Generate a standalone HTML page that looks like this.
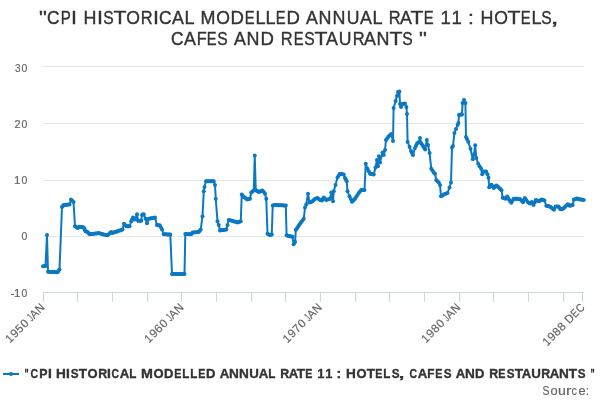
<!DOCTYPE html>
<html><head><meta charset="utf-8"><title>CPI HISTORICAL MODELLED ANNUAL RATE 11 : HOTELS, CAFES AND RESTAURANTS</title>
<style>
html,body{margin:0;padding:0;background:#fff;}
body{width:600px;height:400px;overflow:hidden;}
svg{display:block;will-change:transform;}
text{font-family:"Liberation Sans",sans-serif;white-space:pre;font-kerning:none;}
.ttl{font-size:19.07px;fill:#333;stroke:#333;stroke-width:0.4px;}
.ax{font-size:11.66px;fill:#666;stroke:#666;stroke-width:0.2px;}
.lg{font-size:12.72px;font-weight:bold;fill:#333;stroke:#333;stroke-width:0.35px;}
.src{font-size:12.72px;fill:#666;stroke:#666;stroke-width:0.2px;}
</style></head><body>
<svg width="600" height="400" viewBox="0 0 600 400">
<rect width="600" height="400" fill="#fff"/>
<g stroke="#e6e6e6" stroke-width="1" fill="none"><path d="M43 66.5 H584"/><path d="M43 123.5 H584"/><path d="M43 180.5 H584"/><path d="M43 236.5 H584"/></g>
<g stroke="#ccd6eb" stroke-width="1" fill="none"><path d="M43 292.5 H584"/><path d="M43.5 292 V302"/><path d="M77.5 292 V302"/><path d="M112.5 292 V302"/><path d="M147.5 292 V302"/><path d="M181.5 292 V302"/><path d="M216.5 292 V302"/><path d="M251.5 292 V302"/><path d="M285.5 292 V302"/><path d="M320.5 292 V302"/><path d="M355.5 292 V302"/><path d="M389.5 292 V302"/><path d="M424.5 292 V302"/><path d="M459.5 292 V302"/><path d="M493.5 292 V302"/><path d="M528.5 292 V302"/><path d="M563.5 292 V302"/><path d="M582.5 292 V302"/></g>
<g fill="none" stroke="#0b78c2" stroke-width="2" stroke-linejoin="round" stroke-linecap="round"><path d="M43.00 266.25 L45.50 266.00 L47.00 235.00 L48.00 271.80 L57.50 272.20 L59.50 269.50 L62.00 207.00 L63.75 205.00 L69.50 204.50 L71.00 199.50 L73.50 202.00 L75.00 226.25 L77.50 228.00 L79.50 226.75 L83.75 227.50 L85.50 231.25 L87.50 232.00 L89.50 234.25 L93.75 233.75 L98.75 233.00 L102.50 234.25 L107.50 235.25 L111.25 232.00 L112.50 233.00 L117.50 231.25 L122.50 229.50 L124.00 223.75 L126.25 226.25 L129.50 226.25 L131.25 221.25 L133.00 217.50 L135.00 219.50 L137.00 214.25 L138.00 220.75 L141.25 220.75 L142.00 215.00 L143.75 214.25 L145.50 218.75 L147.00 223.25 L148.75 218.75 L155.00 217.50 L157.00 225.00 L160.00 225.50 L162.00 229.50 L163.75 234.25 L170.30 234.50 L172.00 274.00 L184.50 274.00 L185.30 234.00 L191.25 234.25 L192.50 232.50 L198.75 232.00 L200.75 229.50 L202.50 216.25 L203.75 191.25 L204.50 187.00 L206.00 181.25 L213.75 181.25 L215.00 185.00 L215.75 198.75 L217.50 221.25 L218.75 225.00 L220.00 230.50 L226.25 229.50 L227.50 225.00 L228.75 220.00 L233.75 221.25 L237.50 222.50 L240.75 221.25 L241.75 194.50 L243.75 197.00 L247.50 199.50 L250.00 198.75 L251.25 192.50 L253.75 190.50 L254.75 155.50 L255.75 190.00 L258.75 192.00 L262.50 190.50 L265.00 193.75 L266.25 198.75 L267.50 233.75 L270.00 235.00 L271.75 234.50 L272.75 205.50 L275.00 205.00 L285.80 205.50 L286.60 235.30 L290.00 236.30 L292.50 236.80 L293.60 244.20 L295.10 242.00 L295.80 230.00 L300.00 223.75 L303.75 218.75 L305.00 207.50 L306.25 204.50 L308.00 193.75 L309.50 202.50 L312.50 201.25 L315.00 198.75 L317.50 198.00 L320.00 200.00 L322.00 200.50 L323.75 197.50 L326.25 200.00 L330.00 198.75 L331.25 192.50 L333.00 201.25 L333.75 191.25 L335.50 185.00 L337.50 177.50 L340.00 173.75 L343.75 174.50 L345.00 178.00 L346.75 181.25 L347.50 191.25 L349.50 196.25 L352.00 201.75 L355.00 198.75 L358.75 193.00 L361.25 190.00 L364.50 190.00 L365.75 163.75 L367.50 168.75 L370.00 173.75 L373.75 174.50 L375.50 167.50 L377.00 160.00 L378.00 166.25 L379.00 156.25 L380.00 162.50 L382.50 152.50 L383.75 155.00 L385.00 150.00 L386.00 140.00 L388.50 136.40 L391.20 134.00 L393.00 141.00 L393.60 108.00 L395.60 101.00 L397.00 96.00 L398.00 92.00 L399.40 91.60 L400.00 104.00 L401.00 107.00 L402.40 104.00 L405.00 103.60 L406.40 107.00 L407.00 114.00 L407.60 142.00 L409.60 147.00 L411.00 151.00 L413.00 155.00 L415.00 148.00 L417.00 143.60 L419.00 142.00 L420.00 138.00 L421.00 143.00 L423.00 146.00 L425.20 149.60 L426.80 140.00 L428.00 145.00 L429.60 153.00 L431.25 168.75 L433.75 172.50 L435.00 173.75 L436.25 180.00 L438.75 182.50 L440.00 185.00 L441.00 196.25 L443.75 194.50 L447.50 193.00 L449.50 187.50 L451.00 182.50 L452.00 147.50 L453.00 146.00 L454.40 133.00 L456.00 129.00 L457.60 125.00 L458.40 123.00 L459.00 115.00 L462.00 114.40 L462.60 103.00 L464.00 100.00 L465.40 103.00 L466.00 137.00 L468.20 141.70 L470.50 148.70 L472.80 159.20 L474.00 154.50 L475.20 145.20 L476.30 158.00 L478.20 163.80 L481.00 168.50 L482.20 174.30 L483.80 171.50 L486.10 171.50 L487.50 174.30 L488.50 177.80 L489.20 187.20 L491.50 184.80 L493.80 187.90 L496.20 185.50 L498.50 187.20 L501.50 190.20 L502.70 197.70 L505.50 198.80 L507.10 196.50 L509.00 199.50 L511.30 202.80 L513.70 198.80 L517.20 198.80 L520.70 199.50 L523.00 202.30 L524.90 198.10 L527.70 201.90 L530.00 203.50 L531.90 201.90 L533.50 205.10 L535.80 200.00 L539.30 201.20 L541.70 199.50 L544.50 200.50 L546.30 205.80 L549.80 206.50 L552.20 208.20 L554.00 209.80 L555.70 206.50 L558.50 206.50 L560.30 208.90 L562.20 209.30 L565.00 207.00 L567.80 204.20 L569.70 205.80 L572.70 205.10 L573.90 199.50 L576.70 198.40 L579.00 199.30 L581.30 199.50 L583.70 200.00"/></g>
<g fill="#0b78c2"><circle cx="43.00" cy="266.25" r="2"/><circle cx="44.25" cy="266.12" r="2"/><circle cx="45.50" cy="266.00" r="2"/><circle cx="47.00" cy="235.00" r="2"/><circle cx="48.00" cy="271.80" r="2"/><circle cx="49.19" cy="271.85" r="2"/><circle cx="50.38" cy="271.90" r="2"/><circle cx="51.56" cy="271.95" r="2"/><circle cx="52.75" cy="272.00" r="2"/><circle cx="53.94" cy="272.05" r="2"/><circle cx="55.12" cy="272.10" r="2"/><circle cx="56.31" cy="272.15" r="2"/><circle cx="57.50" cy="272.20" r="2"/><circle cx="58.50" cy="270.85" r="2"/><circle cx="59.50" cy="269.50" r="2"/><circle cx="62.00" cy="207.00" r="2"/><circle cx="62.88" cy="206.00" r="2"/><circle cx="63.75" cy="205.00" r="2"/><circle cx="64.90" cy="204.90" r="2"/><circle cx="66.05" cy="204.80" r="2"/><circle cx="67.20" cy="204.70" r="2"/><circle cx="68.35" cy="204.60" r="2"/><circle cx="69.50" cy="204.50" r="2"/><circle cx="71.00" cy="199.50" r="2"/><circle cx="72.25" cy="200.75" r="2"/><circle cx="73.50" cy="202.00" r="2"/><circle cx="75.00" cy="226.25" r="2"/><circle cx="76.25" cy="227.12" r="2"/><circle cx="77.50" cy="228.00" r="2"/><circle cx="78.50" cy="227.38" r="2"/><circle cx="79.50" cy="226.75" r="2"/><circle cx="80.56" cy="226.94" r="2"/><circle cx="81.62" cy="227.12" r="2"/><circle cx="82.69" cy="227.31" r="2"/><circle cx="83.75" cy="227.50" r="2"/><circle cx="84.62" cy="229.38" r="2"/><circle cx="85.50" cy="231.25" r="2"/><circle cx="86.50" cy="231.62" r="2"/><circle cx="87.50" cy="232.00" r="2"/><circle cx="88.50" cy="233.12" r="2"/><circle cx="89.50" cy="234.25" r="2"/><circle cx="90.56" cy="234.12" r="2"/><circle cx="91.62" cy="234.00" r="2"/><circle cx="92.69" cy="233.88" r="2"/><circle cx="93.75" cy="233.75" r="2"/><circle cx="95.00" cy="233.56" r="2"/><circle cx="96.25" cy="233.38" r="2"/><circle cx="97.50" cy="233.19" r="2"/><circle cx="98.75" cy="233.00" r="2"/><circle cx="100.00" cy="233.42" r="2"/><circle cx="101.25" cy="233.83" r="2"/><circle cx="102.50" cy="234.25" r="2"/><circle cx="103.75" cy="234.50" r="2"/><circle cx="105.00" cy="234.75" r="2"/><circle cx="106.25" cy="235.00" r="2"/><circle cx="107.50" cy="235.25" r="2"/><circle cx="108.75" cy="234.17" r="2"/><circle cx="110.00" cy="233.08" r="2"/><circle cx="111.25" cy="232.00" r="2"/><circle cx="112.50" cy="233.00" r="2"/><circle cx="113.75" cy="232.56" r="2"/><circle cx="115.00" cy="232.12" r="2"/><circle cx="116.25" cy="231.69" r="2"/><circle cx="117.50" cy="231.25" r="2"/><circle cx="118.75" cy="230.81" r="2"/><circle cx="120.00" cy="230.38" r="2"/><circle cx="121.25" cy="229.94" r="2"/><circle cx="122.50" cy="229.50" r="2"/><circle cx="124.00" cy="223.75" r="2"/><circle cx="125.12" cy="225.00" r="2"/><circle cx="126.25" cy="226.25" r="2"/><circle cx="127.33" cy="226.25" r="2"/><circle cx="128.42" cy="226.25" r="2"/><circle cx="129.50" cy="226.25" r="2"/><circle cx="131.25" cy="221.25" r="2"/><circle cx="132.12" cy="219.38" r="2"/><circle cx="133.00" cy="217.50" r="2"/><circle cx="134.00" cy="218.50" r="2"/><circle cx="135.00" cy="219.50" r="2"/><circle cx="137.00" cy="214.25" r="2"/><circle cx="138.00" cy="220.75" r="2"/><circle cx="139.08" cy="220.75" r="2"/><circle cx="140.17" cy="220.75" r="2"/><circle cx="141.25" cy="220.75" r="2"/><circle cx="142.00" cy="215.00" r="2"/><circle cx="142.88" cy="214.62" r="2"/><circle cx="143.75" cy="214.25" r="2"/><circle cx="145.50" cy="218.75" r="2"/><circle cx="147.00" cy="223.25" r="2"/><circle cx="148.75" cy="218.75" r="2"/><circle cx="150.00" cy="218.50" r="2"/><circle cx="151.25" cy="218.25" r="2"/><circle cx="152.50" cy="218.00" r="2"/><circle cx="153.75" cy="217.75" r="2"/><circle cx="155.00" cy="217.50" r="2"/><circle cx="157.00" cy="225.00" r="2"/><circle cx="158.00" cy="225.17" r="2"/><circle cx="159.00" cy="225.33" r="2"/><circle cx="160.00" cy="225.50" r="2"/><circle cx="161.00" cy="227.50" r="2"/><circle cx="162.00" cy="229.50" r="2"/><circle cx="163.75" cy="234.25" r="2"/><circle cx="164.84" cy="234.29" r="2"/><circle cx="165.93" cy="234.33" r="2"/><circle cx="167.03" cy="234.38" r="2"/><circle cx="168.12" cy="234.42" r="2"/><circle cx="169.21" cy="234.46" r="2"/><circle cx="170.30" cy="234.50" r="2"/><circle cx="172.00" cy="274.00" r="2"/><circle cx="173.14" cy="274.00" r="2"/><circle cx="174.27" cy="274.00" r="2"/><circle cx="175.41" cy="274.00" r="2"/><circle cx="176.55" cy="274.00" r="2"/><circle cx="177.68" cy="274.00" r="2"/><circle cx="178.82" cy="274.00" r="2"/><circle cx="179.95" cy="274.00" r="2"/><circle cx="181.09" cy="274.00" r="2"/><circle cx="182.23" cy="274.00" r="2"/><circle cx="183.36" cy="274.00" r="2"/><circle cx="184.50" cy="274.00" r="2"/><circle cx="185.30" cy="234.00" r="2"/><circle cx="186.49" cy="234.05" r="2"/><circle cx="187.68" cy="234.10" r="2"/><circle cx="188.87" cy="234.15" r="2"/><circle cx="190.06" cy="234.20" r="2"/><circle cx="191.25" cy="234.25" r="2"/><circle cx="192.50" cy="232.50" r="2"/><circle cx="193.75" cy="232.40" r="2"/><circle cx="195.00" cy="232.30" r="2"/><circle cx="196.25" cy="232.20" r="2"/><circle cx="197.50" cy="232.10" r="2"/><circle cx="198.75" cy="232.00" r="2"/><circle cx="199.75" cy="230.75" r="2"/><circle cx="200.75" cy="229.50" r="2"/><circle cx="202.50" cy="216.25" r="2"/><circle cx="203.75" cy="191.25" r="2"/><circle cx="204.50" cy="187.00" r="2"/><circle cx="206.00" cy="181.25" r="2"/><circle cx="207.11" cy="181.25" r="2"/><circle cx="208.21" cy="181.25" r="2"/><circle cx="209.32" cy="181.25" r="2"/><circle cx="210.43" cy="181.25" r="2"/><circle cx="211.54" cy="181.25" r="2"/><circle cx="212.64" cy="181.25" r="2"/><circle cx="213.75" cy="181.25" r="2"/><circle cx="215.00" cy="185.00" r="2"/><circle cx="215.75" cy="198.75" r="2"/><circle cx="217.50" cy="221.25" r="2"/><circle cx="218.75" cy="225.00" r="2"/><circle cx="220.00" cy="230.50" r="2"/><circle cx="221.25" cy="230.30" r="2"/><circle cx="222.50" cy="230.10" r="2"/><circle cx="223.75" cy="229.90" r="2"/><circle cx="225.00" cy="229.70" r="2"/><circle cx="226.25" cy="229.50" r="2"/><circle cx="227.50" cy="225.00" r="2"/><circle cx="228.75" cy="220.00" r="2"/><circle cx="230.00" cy="220.31" r="2"/><circle cx="231.25" cy="220.62" r="2"/><circle cx="232.50" cy="220.94" r="2"/><circle cx="233.75" cy="221.25" r="2"/><circle cx="235.00" cy="221.67" r="2"/><circle cx="236.25" cy="222.08" r="2"/><circle cx="237.50" cy="222.50" r="2"/><circle cx="238.58" cy="222.08" r="2"/><circle cx="239.67" cy="221.67" r="2"/><circle cx="240.75" cy="221.25" r="2"/><circle cx="241.75" cy="194.50" r="2"/><circle cx="242.75" cy="195.75" r="2"/><circle cx="243.75" cy="197.00" r="2"/><circle cx="245.00" cy="197.83" r="2"/><circle cx="246.25" cy="198.67" r="2"/><circle cx="247.50" cy="199.50" r="2"/><circle cx="248.75" cy="199.12" r="2"/><circle cx="250.00" cy="198.75" r="2"/><circle cx="251.25" cy="192.50" r="2"/><circle cx="252.50" cy="191.50" r="2"/><circle cx="253.75" cy="190.50" r="2"/><circle cx="254.75" cy="155.50" r="2"/><circle cx="255.75" cy="190.00" r="2"/><circle cx="256.75" cy="190.67" r="2"/><circle cx="257.75" cy="191.33" r="2"/><circle cx="258.75" cy="192.00" r="2"/><circle cx="260.00" cy="191.50" r="2"/><circle cx="261.25" cy="191.00" r="2"/><circle cx="262.50" cy="190.50" r="2"/><circle cx="263.75" cy="192.12" r="2"/><circle cx="265.00" cy="193.75" r="2"/><circle cx="266.25" cy="198.75" r="2"/><circle cx="267.50" cy="233.75" r="2"/><circle cx="268.75" cy="234.38" r="2"/><circle cx="270.00" cy="235.00" r="2"/><circle cx="270.88" cy="234.75" r="2"/><circle cx="271.75" cy="234.50" r="2"/><circle cx="272.75" cy="205.50" r="2"/><circle cx="273.88" cy="205.25" r="2"/><circle cx="275.00" cy="205.00" r="2"/><circle cx="276.20" cy="205.06" r="2"/><circle cx="277.40" cy="205.11" r="2"/><circle cx="278.60" cy="205.17" r="2"/><circle cx="279.80" cy="205.22" r="2"/><circle cx="281.00" cy="205.28" r="2"/><circle cx="282.20" cy="205.33" r="2"/><circle cx="283.40" cy="205.39" r="2"/><circle cx="284.60" cy="205.44" r="2"/><circle cx="285.80" cy="205.50" r="2"/><circle cx="286.60" cy="235.30" r="2"/><circle cx="287.73" cy="235.63" r="2"/><circle cx="288.87" cy="235.97" r="2"/><circle cx="290.00" cy="236.30" r="2"/><circle cx="291.25" cy="236.55" r="2"/><circle cx="292.50" cy="236.80" r="2"/><circle cx="293.60" cy="244.20" r="2"/><circle cx="295.10" cy="242.00" r="2"/><circle cx="295.80" cy="230.00" r="2"/><circle cx="296.85" cy="228.44" r="2"/><circle cx="297.90" cy="226.88" r="2"/><circle cx="298.95" cy="225.31" r="2"/><circle cx="300.00" cy="223.75" r="2"/><circle cx="301.25" cy="222.08" r="2"/><circle cx="302.50" cy="220.42" r="2"/><circle cx="303.75" cy="218.75" r="2"/><circle cx="305.00" cy="207.50" r="2"/><circle cx="306.25" cy="204.50" r="2"/><circle cx="308.00" cy="193.75" r="2"/><circle cx="309.50" cy="202.50" r="2"/><circle cx="310.50" cy="202.08" r="2"/><circle cx="311.50" cy="201.67" r="2"/><circle cx="312.50" cy="201.25" r="2"/><circle cx="313.75" cy="200.00" r="2"/><circle cx="315.00" cy="198.75" r="2"/><circle cx="316.25" cy="198.38" r="2"/><circle cx="317.50" cy="198.00" r="2"/><circle cx="318.75" cy="199.00" r="2"/><circle cx="320.00" cy="200.00" r="2"/><circle cx="321.00" cy="200.25" r="2"/><circle cx="322.00" cy="200.50" r="2"/><circle cx="322.88" cy="199.00" r="2"/><circle cx="323.75" cy="197.50" r="2"/><circle cx="325.00" cy="198.75" r="2"/><circle cx="326.25" cy="200.00" r="2"/><circle cx="327.50" cy="199.58" r="2"/><circle cx="328.75" cy="199.17" r="2"/><circle cx="330.00" cy="198.75" r="2"/><circle cx="331.25" cy="192.50" r="2"/><circle cx="333.00" cy="201.25" r="2"/><circle cx="333.75" cy="191.25" r="2"/><circle cx="335.50" cy="185.00" r="2"/><circle cx="337.50" cy="177.50" r="2"/><circle cx="338.75" cy="175.62" r="2"/><circle cx="340.00" cy="173.75" r="2"/><circle cx="341.25" cy="174.00" r="2"/><circle cx="342.50" cy="174.25" r="2"/><circle cx="343.75" cy="174.50" r="2"/><circle cx="345.00" cy="178.00" r="2"/><circle cx="345.88" cy="179.62" r="2"/><circle cx="346.75" cy="181.25" r="2"/><circle cx="347.50" cy="191.25" r="2"/><circle cx="349.50" cy="196.25" r="2"/><circle cx="350.75" cy="199.00" r="2"/><circle cx="352.00" cy="201.75" r="2"/><circle cx="353.00" cy="200.75" r="2"/><circle cx="354.00" cy="199.75" r="2"/><circle cx="355.00" cy="198.75" r="2"/><circle cx="356.25" cy="196.83" r="2"/><circle cx="357.50" cy="194.92" r="2"/><circle cx="358.75" cy="193.00" r="2"/><circle cx="360.00" cy="191.50" r="2"/><circle cx="361.25" cy="190.00" r="2"/><circle cx="362.33" cy="190.00" r="2"/><circle cx="363.42" cy="190.00" r="2"/><circle cx="364.50" cy="190.00" r="2"/><circle cx="365.75" cy="163.75" r="2"/><circle cx="367.50" cy="168.75" r="2"/><circle cx="368.75" cy="171.25" r="2"/><circle cx="370.00" cy="173.75" r="2"/><circle cx="371.25" cy="174.00" r="2"/><circle cx="372.50" cy="174.25" r="2"/><circle cx="373.75" cy="174.50" r="2"/><circle cx="375.50" cy="167.50" r="2"/><circle cx="377.00" cy="160.00" r="2"/><circle cx="378.00" cy="166.25" r="2"/><circle cx="379.00" cy="156.25" r="2"/><circle cx="380.00" cy="162.50" r="2"/><circle cx="382.50" cy="152.50" r="2"/><circle cx="383.75" cy="155.00" r="2"/><circle cx="385.00" cy="150.00" r="2"/><circle cx="386.00" cy="140.00" r="2"/><circle cx="387.25" cy="138.20" r="2"/><circle cx="388.50" cy="136.40" r="2"/><circle cx="389.85" cy="135.20" r="2"/><circle cx="391.20" cy="134.00" r="2"/><circle cx="393.00" cy="141.00" r="2"/><circle cx="393.60" cy="108.00" r="2"/><circle cx="395.60" cy="101.00" r="2"/><circle cx="397.00" cy="96.00" r="2"/><circle cx="398.00" cy="92.00" r="2"/><circle cx="399.40" cy="91.60" r="2"/><circle cx="400.00" cy="104.00" r="2"/><circle cx="401.00" cy="107.00" r="2"/><circle cx="402.40" cy="104.00" r="2"/><circle cx="403.70" cy="103.80" r="2"/><circle cx="405.00" cy="103.60" r="2"/><circle cx="406.40" cy="107.00" r="2"/><circle cx="407.00" cy="114.00" r="2"/><circle cx="407.60" cy="142.00" r="2"/><circle cx="409.60" cy="147.00" r="2"/><circle cx="411.00" cy="151.00" r="2"/><circle cx="412.00" cy="153.00" r="2"/><circle cx="413.00" cy="155.00" r="2"/><circle cx="415.00" cy="148.00" r="2"/><circle cx="416.00" cy="145.80" r="2"/><circle cx="417.00" cy="143.60" r="2"/><circle cx="418.00" cy="142.80" r="2"/><circle cx="419.00" cy="142.00" r="2"/><circle cx="420.00" cy="138.00" r="2"/><circle cx="421.00" cy="143.00" r="2"/><circle cx="422.00" cy="144.50" r="2"/><circle cx="423.00" cy="146.00" r="2"/><circle cx="424.10" cy="147.80" r="2"/><circle cx="425.20" cy="149.60" r="2"/><circle cx="426.80" cy="140.00" r="2"/><circle cx="428.00" cy="145.00" r="2"/><circle cx="429.60" cy="153.00" r="2"/><circle cx="431.25" cy="168.75" r="2"/><circle cx="432.50" cy="170.62" r="2"/><circle cx="433.75" cy="172.50" r="2"/><circle cx="435.00" cy="173.75" r="2"/><circle cx="436.25" cy="180.00" r="2"/><circle cx="437.50" cy="181.25" r="2"/><circle cx="438.75" cy="182.50" r="2"/><circle cx="440.00" cy="185.00" r="2"/><circle cx="441.00" cy="196.25" r="2"/><circle cx="442.38" cy="195.38" r="2"/><circle cx="443.75" cy="194.50" r="2"/><circle cx="445.00" cy="194.00" r="2"/><circle cx="446.25" cy="193.50" r="2"/><circle cx="447.50" cy="193.00" r="2"/><circle cx="449.50" cy="187.50" r="2"/><circle cx="451.00" cy="182.50" r="2"/><circle cx="452.00" cy="147.50" r="2"/><circle cx="453.00" cy="146.00" r="2"/><circle cx="454.40" cy="133.00" r="2"/><circle cx="456.00" cy="129.00" r="2"/><circle cx="457.60" cy="125.00" r="2"/><circle cx="458.40" cy="123.00" r="2"/><circle cx="459.00" cy="115.00" r="2"/><circle cx="460.00" cy="114.80" r="2"/><circle cx="461.00" cy="114.60" r="2"/><circle cx="462.00" cy="114.40" r="2"/><circle cx="462.60" cy="103.00" r="2"/><circle cx="464.00" cy="100.00" r="2"/><circle cx="465.40" cy="103.00" r="2"/><circle cx="466.00" cy="137.00" r="2"/><circle cx="467.10" cy="139.35" r="2"/><circle cx="468.20" cy="141.70" r="2"/><circle cx="470.50" cy="148.70" r="2"/><circle cx="472.80" cy="159.20" r="2"/><circle cx="474.00" cy="154.50" r="2"/><circle cx="475.20" cy="145.20" r="2"/><circle cx="476.30" cy="158.00" r="2"/><circle cx="478.20" cy="163.80" r="2"/><circle cx="479.60" cy="166.15" r="2"/><circle cx="481.00" cy="168.50" r="2"/><circle cx="482.20" cy="174.30" r="2"/><circle cx="483.80" cy="171.50" r="2"/><circle cx="484.95" cy="171.50" r="2"/><circle cx="486.10" cy="171.50" r="2"/><circle cx="487.50" cy="174.30" r="2"/><circle cx="488.50" cy="177.80" r="2"/><circle cx="489.20" cy="187.20" r="2"/><circle cx="490.35" cy="186.00" r="2"/><circle cx="491.50" cy="184.80" r="2"/><circle cx="492.65" cy="186.35" r="2"/><circle cx="493.80" cy="187.90" r="2"/><circle cx="495.00" cy="186.70" r="2"/><circle cx="496.20" cy="185.50" r="2"/><circle cx="497.35" cy="186.35" r="2"/><circle cx="498.50" cy="187.20" r="2"/><circle cx="499.50" cy="188.20" r="2"/><circle cx="500.50" cy="189.20" r="2"/><circle cx="501.50" cy="190.20" r="2"/><circle cx="502.70" cy="197.70" r="2"/><circle cx="504.10" cy="198.25" r="2"/><circle cx="505.50" cy="198.80" r="2"/><circle cx="507.10" cy="196.50" r="2"/><circle cx="508.05" cy="198.00" r="2"/><circle cx="509.00" cy="199.50" r="2"/><circle cx="510.15" cy="201.15" r="2"/><circle cx="511.30" cy="202.80" r="2"/><circle cx="512.50" cy="200.80" r="2"/><circle cx="513.70" cy="198.80" r="2"/><circle cx="514.87" cy="198.80" r="2"/><circle cx="516.03" cy="198.80" r="2"/><circle cx="517.20" cy="198.80" r="2"/><circle cx="518.37" cy="199.03" r="2"/><circle cx="519.53" cy="199.27" r="2"/><circle cx="520.70" cy="199.50" r="2"/><circle cx="521.85" cy="200.90" r="2"/><circle cx="523.00" cy="202.30" r="2"/><circle cx="523.95" cy="200.20" r="2"/><circle cx="524.90" cy="198.10" r="2"/><circle cx="526.30" cy="200.00" r="2"/><circle cx="527.70" cy="201.90" r="2"/><circle cx="528.85" cy="202.70" r="2"/><circle cx="530.00" cy="203.50" r="2"/><circle cx="530.95" cy="202.70" r="2"/><circle cx="531.90" cy="201.90" r="2"/><circle cx="533.50" cy="205.10" r="2"/><circle cx="534.65" cy="202.55" r="2"/><circle cx="535.80" cy="200.00" r="2"/><circle cx="536.97" cy="200.40" r="2"/><circle cx="538.13" cy="200.80" r="2"/><circle cx="539.30" cy="201.20" r="2"/><circle cx="540.50" cy="200.35" r="2"/><circle cx="541.70" cy="199.50" r="2"/><circle cx="543.10" cy="200.00" r="2"/><circle cx="544.50" cy="200.50" r="2"/><circle cx="546.30" cy="205.80" r="2"/><circle cx="547.47" cy="206.03" r="2"/><circle cx="548.63" cy="206.27" r="2"/><circle cx="549.80" cy="206.50" r="2"/><circle cx="551.00" cy="207.35" r="2"/><circle cx="552.20" cy="208.20" r="2"/><circle cx="553.10" cy="209.00" r="2"/><circle cx="554.00" cy="209.80" r="2"/><circle cx="555.70" cy="206.50" r="2"/><circle cx="557.10" cy="206.50" r="2"/><circle cx="558.50" cy="206.50" r="2"/><circle cx="559.40" cy="207.70" r="2"/><circle cx="560.30" cy="208.90" r="2"/><circle cx="561.25" cy="209.10" r="2"/><circle cx="562.20" cy="209.30" r="2"/><circle cx="563.60" cy="208.15" r="2"/><circle cx="565.00" cy="207.00" r="2"/><circle cx="566.40" cy="205.60" r="2"/><circle cx="567.80" cy="204.20" r="2"/><circle cx="568.75" cy="205.00" r="2"/><circle cx="569.70" cy="205.80" r="2"/><circle cx="570.70" cy="205.57" r="2"/><circle cx="571.70" cy="205.33" r="2"/><circle cx="572.70" cy="205.10" r="2"/><circle cx="573.90" cy="199.50" r="2"/><circle cx="575.30" cy="198.95" r="2"/><circle cx="576.70" cy="198.40" r="2"/><circle cx="577.85" cy="198.85" r="2"/><circle cx="579.00" cy="199.30" r="2"/><circle cx="580.15" cy="199.40" r="2"/><circle cx="581.30" cy="199.50" r="2"/><circle cx="582.50" cy="199.75" r="2"/><circle cx="583.70" cy="200.00" r="2"/></g>
<path d="M3 374 H19" stroke="#0b78c2" stroke-width="2"/><circle cx="11" cy="374" r="2" fill="#0b78c2"/>
<text class="ttl" y="24"><tspan x="39.06" textLength="7.89" lengthAdjust="spacingAndGlyphs">&quot;</tspan><tspan x="47.12" textLength="12.54" lengthAdjust="spacingAndGlyphs">C</tspan><tspan x="60.77" textLength="10.03" lengthAdjust="spacingAndGlyphs">P</tspan><tspan x="71.02" textLength="5.96" lengthAdjust="spacingAndGlyphs">I</tspan> <tspan x="83.53" textLength="12.93" lengthAdjust="spacingAndGlyphs">H</tspan><tspan x="97.02" textLength="5.96" lengthAdjust="spacingAndGlyphs">I</tspan><tspan x="103.29" textLength="10.43" lengthAdjust="spacingAndGlyphs">S</tspan><tspan x="113.52" textLength="12.96" lengthAdjust="spacingAndGlyphs">T</tspan><tspan x="126.17" textLength="13.67" lengthAdjust="spacingAndGlyphs">O</tspan><tspan x="140.65" textLength="11.87" lengthAdjust="spacingAndGlyphs">R</tspan><tspan x="153.02" textLength="5.96" lengthAdjust="spacingAndGlyphs">I</tspan><tspan x="159.12" textLength="12.54" lengthAdjust="spacingAndGlyphs">C</tspan><tspan x="172.08" textLength="11.85" lengthAdjust="spacingAndGlyphs">A</tspan><tspan x="184.51" textLength="10.09" lengthAdjust="spacingAndGlyphs">L</tspan> <tspan x="200.53" textLength="14.94" lengthAdjust="spacingAndGlyphs">M</tspan><tspan x="216.17" textLength="13.67" lengthAdjust="spacingAndGlyphs">O</tspan><tspan x="230.48" textLength="13.41" lengthAdjust="spacingAndGlyphs">D</tspan><tspan x="244.79" textLength="9.85" lengthAdjust="spacingAndGlyphs">E</tspan><tspan x="255.51" textLength="10.09" lengthAdjust="spacingAndGlyphs">L</tspan><tspan x="265.51" textLength="10.09" lengthAdjust="spacingAndGlyphs">L</tspan><tspan x="275.79" textLength="9.85" lengthAdjust="spacingAndGlyphs">E</tspan><tspan x="286.48" textLength="13.41" lengthAdjust="spacingAndGlyphs">D</tspan> <tspan x="306.08" textLength="11.85" lengthAdjust="spacingAndGlyphs">A</tspan><tspan x="318.53" textLength="12.93" lengthAdjust="spacingAndGlyphs">N</tspan><tspan x="332.53" textLength="12.93" lengthAdjust="spacingAndGlyphs">N</tspan><tspan x="346.64" textLength="12.72" lengthAdjust="spacingAndGlyphs">U</tspan><tspan x="360.08" textLength="11.85" lengthAdjust="spacingAndGlyphs">A</tspan><tspan x="372.51" textLength="10.09" lengthAdjust="spacingAndGlyphs">L</tspan> <tspan x="388.65" textLength="11.87" lengthAdjust="spacingAndGlyphs">R</tspan><tspan x="400.08" textLength="11.85" lengthAdjust="spacingAndGlyphs">A</tspan><tspan x="410.52" textLength="12.96" lengthAdjust="spacingAndGlyphs">T</tspan><tspan x="423.79" textLength="9.85" lengthAdjust="spacingAndGlyphs">E</tspan> <tspan x="440.59" textLength="10.32" lengthAdjust="spacingAndGlyphs">1</tspan><tspan x="451.59" textLength="10.32" lengthAdjust="spacingAndGlyphs">1</tspan> <tspan x="468.08" textLength="5.84" lengthAdjust="spacingAndGlyphs">:</tspan> <tspan x="480.53" textLength="12.93" lengthAdjust="spacingAndGlyphs">H</tspan><tspan x="494.17" textLength="13.67" lengthAdjust="spacingAndGlyphs">O</tspan><tspan x="507.52" textLength="12.96" lengthAdjust="spacingAndGlyphs">T</tspan><tspan x="520.79" textLength="9.85" lengthAdjust="spacingAndGlyphs">E</tspan><tspan x="531.51" textLength="10.09" lengthAdjust="spacingAndGlyphs">L</tspan><tspan x="541.29" textLength="10.43" lengthAdjust="spacingAndGlyphs">S</tspan><tspan x="550.44" textLength="8.22" lengthAdjust="spacingAndGlyphs">,</tspan></text>
<text class="ttl" y="45"><tspan x="171.12" textLength="12.54" lengthAdjust="spacingAndGlyphs">C</tspan><tspan x="184.08" textLength="11.85" lengthAdjust="spacingAndGlyphs">A</tspan><tspan x="196.66" textLength="10.00" lengthAdjust="spacingAndGlyphs">F</tspan><tspan x="206.79" textLength="9.85" lengthAdjust="spacingAndGlyphs">E</tspan><tspan x="217.29" textLength="10.43" lengthAdjust="spacingAndGlyphs">S</tspan> <tspan x="234.08" textLength="11.85" lengthAdjust="spacingAndGlyphs">A</tspan><tspan x="246.53" textLength="12.93" lengthAdjust="spacingAndGlyphs">N</tspan><tspan x="260.48" textLength="13.41" lengthAdjust="spacingAndGlyphs">D</tspan> <tspan x="280.65" textLength="11.87" lengthAdjust="spacingAndGlyphs">R</tspan><tspan x="293.79" textLength="9.85" lengthAdjust="spacingAndGlyphs">E</tspan><tspan x="304.29" textLength="10.43" lengthAdjust="spacingAndGlyphs">S</tspan><tspan x="314.52" textLength="12.96" lengthAdjust="spacingAndGlyphs">T</tspan><tspan x="326.08" textLength="11.85" lengthAdjust="spacingAndGlyphs">A</tspan><tspan x="338.64" textLength="12.72" lengthAdjust="spacingAndGlyphs">U</tspan><tspan x="352.65" textLength="11.87" lengthAdjust="spacingAndGlyphs">R</tspan><tspan x="364.08" textLength="11.85" lengthAdjust="spacingAndGlyphs">A</tspan><tspan x="376.53" textLength="12.93" lengthAdjust="spacingAndGlyphs">N</tspan><tspan x="389.52" textLength="12.96" lengthAdjust="spacingAndGlyphs">T</tspan><tspan x="402.29" textLength="10.43" lengthAdjust="spacingAndGlyphs">S</tspan> <tspan x="419.06" textLength="7.89" lengthAdjust="spacingAndGlyphs">&quot;</tspan></text>
<text class="lg" y="378"><tspan x="24.42" textLength="4.16" lengthAdjust="spacingAndGlyphs">&quot;</tspan><tspan x="30.57" textLength="7.53" lengthAdjust="spacingAndGlyphs">C</tspan><tspan x="39.17" textLength="8.25" lengthAdjust="spacingAndGlyphs">P</tspan><tspan x="48.07" textLength="3.86" lengthAdjust="spacingAndGlyphs">I</tspan> <tspan x="56.09" textLength="9.83" lengthAdjust="spacingAndGlyphs">H</tspan><tspan x="66.07" textLength="3.86" lengthAdjust="spacingAndGlyphs">I</tspan><tspan x="70.66" textLength="7.79" lengthAdjust="spacingAndGlyphs">S</tspan><tspan x="78.85" textLength="8.30" lengthAdjust="spacingAndGlyphs">T</tspan><tspan x="87.47" textLength="10.08" lengthAdjust="spacingAndGlyphs">O</tspan><tspan x="98.17" textLength="8.95" lengthAdjust="spacingAndGlyphs">R</tspan><tspan x="107.07" textLength="3.86" lengthAdjust="spacingAndGlyphs">I</tspan><tspan x="111.57" textLength="7.53" lengthAdjust="spacingAndGlyphs">C</tspan><tspan x="119.75" textLength="9.51" lengthAdjust="spacingAndGlyphs">A</tspan><tspan x="129.22" textLength="7.14" lengthAdjust="spacingAndGlyphs">L</tspan> <tspan x="141.04" textLength="11.91" lengthAdjust="spacingAndGlyphs">M</tspan><tspan x="153.47" textLength="10.08" lengthAdjust="spacingAndGlyphs">O</tspan><tspan x="164.13" textLength="9.42" lengthAdjust="spacingAndGlyphs">D</tspan><tspan x="174.28" textLength="7.13" lengthAdjust="spacingAndGlyphs">E</tspan><tspan x="182.22" textLength="7.14" lengthAdjust="spacingAndGlyphs">L</tspan><tspan x="190.22" textLength="7.14" lengthAdjust="spacingAndGlyphs">L</tspan><tspan x="198.28" textLength="7.13" lengthAdjust="spacingAndGlyphs">E</tspan><tspan x="206.13" textLength="9.42" lengthAdjust="spacingAndGlyphs">D</tspan> <tspan x="219.75" textLength="9.51" lengthAdjust="spacingAndGlyphs">A</tspan><tspan x="229.09" textLength="9.83" lengthAdjust="spacingAndGlyphs">N</tspan><tspan x="239.09" textLength="9.83" lengthAdjust="spacingAndGlyphs">N</tspan><tspan x="249.20" textLength="9.61" lengthAdjust="spacingAndGlyphs">U</tspan><tspan x="258.75" textLength="9.51" lengthAdjust="spacingAndGlyphs">A</tspan><tspan x="268.22" textLength="7.14" lengthAdjust="spacingAndGlyphs">L</tspan> <tspan x="280.17" textLength="8.95" lengthAdjust="spacingAndGlyphs">R</tspan><tspan x="288.75" textLength="9.51" lengthAdjust="spacingAndGlyphs">A</tspan><tspan x="296.85" textLength="8.30" lengthAdjust="spacingAndGlyphs">T</tspan><tspan x="305.28" textLength="7.13" lengthAdjust="spacingAndGlyphs">E</tspan> <tspan x="317.19" textLength="7.17" lengthAdjust="spacingAndGlyphs">1</tspan><tspan x="325.19" textLength="7.17" lengthAdjust="spacingAndGlyphs">1</tspan> <tspan x="336.63" textLength="4.74" lengthAdjust="spacingAndGlyphs">:</tspan> <tspan x="346.09" textLength="9.83" lengthAdjust="spacingAndGlyphs">H</tspan><tspan x="356.47" textLength="10.08" lengthAdjust="spacingAndGlyphs">O</tspan><tspan x="366.85" textLength="8.30" lengthAdjust="spacingAndGlyphs">T</tspan><tspan x="375.28" textLength="7.13" lengthAdjust="spacingAndGlyphs">E</tspan><tspan x="383.22" textLength="7.14" lengthAdjust="spacingAndGlyphs">L</tspan><tspan x="391.66" textLength="7.79" lengthAdjust="spacingAndGlyphs">S</tspan><tspan x="398.78" textLength="5.56" lengthAdjust="spacingAndGlyphs">,</tspan> <tspan x="409.57" textLength="7.53" lengthAdjust="spacingAndGlyphs">C</tspan><tspan x="417.75" textLength="9.51" lengthAdjust="spacingAndGlyphs">A</tspan><tspan x="427.21" textLength="7.22" lengthAdjust="spacingAndGlyphs">F</tspan><tspan x="435.28" textLength="7.13" lengthAdjust="spacingAndGlyphs">E</tspan><tspan x="443.66" textLength="7.79" lengthAdjust="spacingAndGlyphs">S</tspan> <tspan x="455.75" textLength="9.51" lengthAdjust="spacingAndGlyphs">A</tspan><tspan x="465.09" textLength="9.83" lengthAdjust="spacingAndGlyphs">N</tspan><tspan x="475.13" textLength="9.42" lengthAdjust="spacingAndGlyphs">D</tspan> <tspan x="489.17" textLength="8.95" lengthAdjust="spacingAndGlyphs">R</tspan><tspan x="498.28" textLength="7.13" lengthAdjust="spacingAndGlyphs">E</tspan><tspan x="506.66" textLength="7.79" lengthAdjust="spacingAndGlyphs">S</tspan><tspan x="514.85" textLength="8.30" lengthAdjust="spacingAndGlyphs">T</tspan><tspan x="521.75" textLength="9.51" lengthAdjust="spacingAndGlyphs">A</tspan><tspan x="531.20" textLength="9.61" lengthAdjust="spacingAndGlyphs">U</tspan><tspan x="541.17" textLength="8.95" lengthAdjust="spacingAndGlyphs">R</tspan><tspan x="549.75" textLength="9.51" lengthAdjust="spacingAndGlyphs">A</tspan><tspan x="559.09" textLength="9.83" lengthAdjust="spacingAndGlyphs">N</tspan><tspan x="568.85" textLength="8.30" lengthAdjust="spacingAndGlyphs">T</tspan><tspan x="577.66" textLength="7.79" lengthAdjust="spacingAndGlyphs">S</tspan> <tspan x="590.42" textLength="4.16" lengthAdjust="spacingAndGlyphs">&quot;</tspan></text>
<text class="src" y="394.7"><tspan x="542.53" textLength="6.95" lengthAdjust="spacingAndGlyphs">S</tspan><tspan x="550.47" textLength="7.07" lengthAdjust="spacingAndGlyphs">o</tspan><tspan x="558.08" textLength="7.86" lengthAdjust="spacingAndGlyphs">u</tspan><tspan x="565.94" textLength="5.33" lengthAdjust="spacingAndGlyphs">r</tspan><tspan x="571.54" textLength="5.40" lengthAdjust="spacingAndGlyphs">c</tspan><tspan x="578.46" textLength="7.11" lengthAdjust="spacingAndGlyphs">e</tspan><tspan x="586.04" textLength="2.92" lengthAdjust="spacingAndGlyphs">:</tspan></text>
<text class="ax" y="72"><tspan x="14.92" textLength="5.52" lengthAdjust="spacingAndGlyphs">3</tspan><tspan x="21.59" textLength="5.82" lengthAdjust="spacingAndGlyphs">0</tspan></text>
<text class="ax" y="128"><tspan x="14.45" textLength="6.10" lengthAdjust="spacingAndGlyphs">2</tspan><tspan x="21.59" textLength="5.82" lengthAdjust="spacingAndGlyphs">0</tspan></text>
<text class="ax" y="184"><tspan x="14.12" textLength="6.45" lengthAdjust="spacingAndGlyphs">1</tspan><tspan x="21.59" textLength="5.82" lengthAdjust="spacingAndGlyphs">0</tspan></text>
<text class="ax" y="240"><tspan x="21.59" textLength="5.82" lengthAdjust="spacingAndGlyphs">0</tspan></text>
<text class="ax" y="297"><tspan x="10.45" textLength="4.09" lengthAdjust="spacingAndGlyphs">-</tspan><tspan x="14.12" textLength="6.45" lengthAdjust="spacingAndGlyphs">1</tspan><tspan x="21.59" textLength="5.82" lengthAdjust="spacingAndGlyphs">0</tspan></text>
<text class="ax" y="0" transform="translate(45.4,308.1) rotate(-45)"><tspan x="-49.93" textLength="6.16" lengthAdjust="spacingAndGlyphs">1</tspan><tspan x="-43.16" textLength="6.66" lengthAdjust="spacingAndGlyphs">9</tspan><tspan x="-35.89" textLength="6.09" lengthAdjust="spacingAndGlyphs">5</tspan><tspan x="-29.03" textLength="6.45" lengthAdjust="spacingAndGlyphs">0</tspan> <tspan x="-19.48" textLength="3.33" lengthAdjust="spacingAndGlyphs">J</tspan><tspan x="-15.69" textLength="7.39" lengthAdjust="spacingAndGlyphs">A</tspan><tspan x="-8.04" textLength="7.85" lengthAdjust="spacingAndGlyphs">N</tspan></text>
<text class="ax" y="0" transform="translate(184.4,308.1) rotate(-45)"><tspan x="-49.93" textLength="6.16" lengthAdjust="spacingAndGlyphs">1</tspan><tspan x="-43.16" textLength="6.66" lengthAdjust="spacingAndGlyphs">9</tspan><tspan x="-36.14" textLength="6.67" lengthAdjust="spacingAndGlyphs">6</tspan><tspan x="-29.03" textLength="6.45" lengthAdjust="spacingAndGlyphs">0</tspan> <tspan x="-19.48" textLength="3.33" lengthAdjust="spacingAndGlyphs">J</tspan><tspan x="-15.69" textLength="7.39" lengthAdjust="spacingAndGlyphs">A</tspan><tspan x="-8.04" textLength="7.85" lengthAdjust="spacingAndGlyphs">N</tspan></text>
<text class="ax" y="0" transform="translate(322.7,308.1) rotate(-45)"><tspan x="-49.93" textLength="6.16" lengthAdjust="spacingAndGlyphs">1</tspan><tspan x="-43.16" textLength="6.66" lengthAdjust="spacingAndGlyphs">9</tspan><tspan x="-35.98" textLength="6.31" lengthAdjust="spacingAndGlyphs">7</tspan><tspan x="-29.03" textLength="6.45" lengthAdjust="spacingAndGlyphs">0</tspan> <tspan x="-19.48" textLength="3.33" lengthAdjust="spacingAndGlyphs">J</tspan><tspan x="-15.69" textLength="7.39" lengthAdjust="spacingAndGlyphs">A</tspan><tspan x="-8.04" textLength="7.85" lengthAdjust="spacingAndGlyphs">N</tspan></text>
<text class="ax" y="0" transform="translate(461.2,308.1) rotate(-45)"><tspan x="-49.93" textLength="6.16" lengthAdjust="spacingAndGlyphs">1</tspan><tspan x="-43.16" textLength="6.66" lengthAdjust="spacingAndGlyphs">9</tspan><tspan x="-36.06" textLength="6.52" lengthAdjust="spacingAndGlyphs">8</tspan><tspan x="-29.03" textLength="6.45" lengthAdjust="spacingAndGlyphs">0</tspan> <tspan x="-19.48" textLength="3.33" lengthAdjust="spacingAndGlyphs">J</tspan><tspan x="-15.69" textLength="7.39" lengthAdjust="spacingAndGlyphs">A</tspan><tspan x="-8.04" textLength="7.85" lengthAdjust="spacingAndGlyphs">N</tspan></text>
<text class="ax" y="0" transform="translate(585.5,308.1) rotate(-45)"><tspan x="-54.23" textLength="6.16" lengthAdjust="spacingAndGlyphs">1</tspan><tspan x="-47.46" textLength="6.66" lengthAdjust="spacingAndGlyphs">9</tspan><tspan x="-40.36" textLength="6.52" lengthAdjust="spacingAndGlyphs">8</tspan><tspan x="-33.36" textLength="6.52" lengthAdjust="spacingAndGlyphs">8</tspan> <tspan x="-22.96" textLength="8.22" lengthAdjust="spacingAndGlyphs">D</tspan><tspan x="-14.33" textLength="6.36" lengthAdjust="spacingAndGlyphs">E</tspan><tspan x="-7.58" textLength="7.37" lengthAdjust="spacingAndGlyphs">C</tspan></text>
</svg>
</body></html>
